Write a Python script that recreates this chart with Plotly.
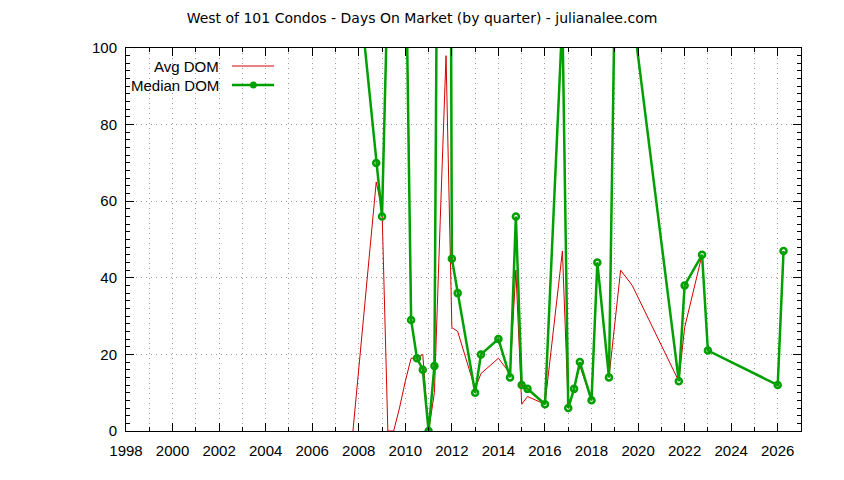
import plotly.graph_objects as go

# quarter (decimal year) for each row
quarters = [
    2007.75, 2008.75, 2009.0, 2009.25, 2009.5, 2009.75, 2010.0, 2010.25,
    2010.5, 2010.75, 2011.0, 2011.25, 2011.5, 2011.75, 2012.0, 2012.25,
    2013.0, 2013.25, 2014.0, 2014.5, 2014.75, 2015.0, 2015.25, 2016.0,
    2016.75, 2017.0, 2017.25, 2017.5, 2018.0, 2018.25, 2018.75, 2019.25,
    2019.75, 2021.75, 2022.0, 2022.75, 2023.0, 2026.0, 2026.25,
]
avg_dom = [
    0, 65, 58, 0, 0, 6, 13, 19,
    19, 20, 0, 10, 55, 98, 27, 26,
    11, 15, 19, 15, 42, 7, 9, 7,
    47, 6, 11, 17, 8, 44, 14, 42,
    38, 13, 27, 46, 21, 12, 47,
]
median_dom = [
    131, 70, 56, 118, 180, 160, 135, 29,
    19, 16, 0, 17, 260, 500, 45, 36,
    10, 20, 24, 14, 56, 12, 11, 7,
    108, 6, 11, 18, 8, 44, 14, 215,
    110, 13, 38, 46, 21, 12, 47,
]

RED = "#d40000"
GREEN = "#00a000"
GRID = "#999999"
FONT = "Liberation Sans"
TITLE_FONT = "DejaVu Sans"

fig = go.Figure()
fig.add_trace(go.Scatter(x=quarters, y=avg_dom, mode="lines", name="Avg DOM",
                         line=dict(color=RED, width=1)))
fig.add_trace(go.Scatter(x=quarters, y=median_dom, mode="lines+markers", name="Median DOM",
                         line=dict(color=GREEN, width=2.5),
                         marker=dict(symbol="circle-open", size=6, color=GREEN,
                                     line=dict(color=GREEN, width=2.5))))

# page body has an 8px offset, so margins are shifted to land the plot box
# at x 126-801, y 48-431 of the window
fig.update_layout(
    width=844,
    height=480,
    plot_bgcolor="white",
    paper_bgcolor="white",
    showlegend=False,
    font=dict(family=FONT, size=15, color="black"),
    margin=dict(l=118, r=51, t=40, b=57),
    title=dict(text="West of 101 Condos - Days On Market (by quarter) - julianalee.com",
               x=414 / 844, xref="container", xanchor="center",
               y=1 - 10 / 480, yref="container", yanchor="middle",
               font=dict(family=TITLE_FONT, size=14)),
)

fig.update_xaxes(
    range=[1998, 2027], dtick=2, tick0=1998, tickformat="d",
    showline=True, linecolor="black", linewidth=1, mirror="ticks",
    ticks="inside", ticklen=8, tickcolor="black", ticklabelstandoff=6,
    showgrid=True, gridcolor=GRID, griddash="1px,4px", gridwidth=1,
    minor=dict(dtick=1, ticks="inside", ticklen=4, tickcolor="black",
               showgrid=True, gridcolor=GRID, griddash="1px,4px"),
    zeroline=False,
)
fig.update_yaxes(
    range=[0, 100], dtick=20,
    showline=True, linecolor="black", linewidth=1, mirror="ticks",
    ticks="inside", ticklen=8, tickcolor="black", ticklabelstandoff=5,
    showgrid=True, gridcolor=GRID, griddash="1px,4px", gridwidth=1,
    minor=dict(dtick=2, ticks="inside", ticklen=4, tickcolor="black", showgrid=False),
    zeroline=False,
)


# gnuplot-style key: text right-aligned, sample on the right
def px(x):
    return (x - 126) / 675


def py(y):
    return (431 - y) / 383


key = [("Avg DOM", 66, RED, 1, False), ("Median DOM", 85, GREEN, 2.5, True)]
for label, yy, col, w, dot in key:
    fig.add_annotation(text=label, xref="paper", yref="paper", x=px(221), y=py(yy),
                       xanchor="right", yanchor="middle", showarrow=False,
                       font=dict(family=FONT, size=15))
    fig.add_shape(type="line", xref="paper", yref="paper",
                  x0=px(232), x1=px(274), y0=py(yy), y1=py(yy),
                  line=dict(color=col, width=w))
    if dot:
        fig.add_shape(type="circle", xref="paper", yref="paper",
                      x0=px(251), x1=px(256), y0=py(yy + 2.5), y1=py(yy - 2.5),
                      line=dict(color=col, width=2), fillcolor=col)

fig.write_html("out.html")
